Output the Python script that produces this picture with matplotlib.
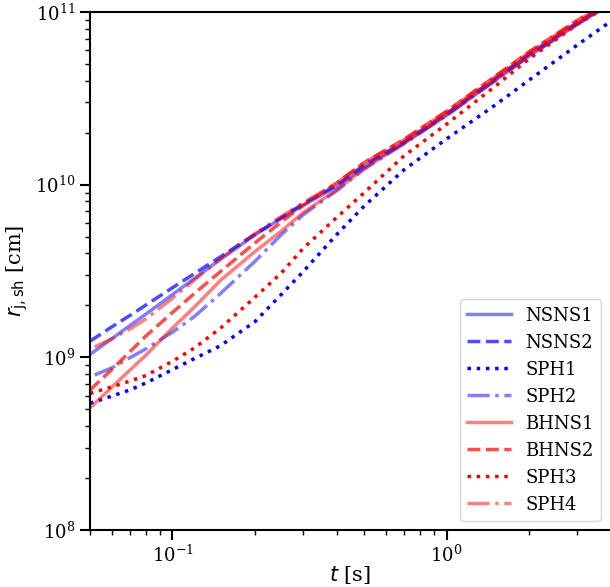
import numpy as np
import matplotlib
matplotlib.use("Agg")
import matplotlib.pyplot as plt

plt.rcParams['font.family'] = 'serif'
plt.rcParams['font.serif'] = ['DejaVu Serif']
plt.rcParams['mathtext.fontset'] = 'dejavusans'

# temps [s]
t = [0.05, 0.06, 0.07, 0.08, 0.1, 0.12, 0.15, 0.2, 0.25, 0.3,
     0.4, 0.5, 0.7, 1.0, 1.5, 2.0, 3.0, 4.0]
t_sph = [0.052] + t[1:]

# rayon du choc [cm]
nsns1 = [1.04e9, 1.28e9, 1.53e9, 1.78e9, 2.31e9, 2.86e9, 3.70e9, 5.12e9, 6.4e9, 7.6e9,
         9.8e9, 1.27e10, 1.74e10, 2.52e10, 4.0e10, 5.55e10, 8.5e10, 1.12e11]
nsns2 = [1.24e9, 1.50e9, 1.75e9, 2.01e9, 2.53e9, 3.05e9, 3.83e9, 5.16e9, 6.45e9, 7.75e9,
         1.0e10, 1.30e10, 1.77e10, 2.58e10, 4.11e10, 5.7e10, 8.69e10, 1.14e11]
sph1 = [5.42e8, 5.96e8, 6.48e8, 7.11e8, 8.49e8, 9.82e8, 1.17e9, 1.61e9, 2.32e9, 3.14e9,
        5.2e9, 7.5e9, 1.22e10, 1.84e10, 2.88e10, 4.03e10, 6.44e10, 8.89e10]
sph2 = [7.9e8, 8.69e8, 9.95e8, 1.12e9, 1.40e9, 1.72e9, 2.35e9, 3.6e9, 5.15e9, 6.7e9,
        9.3e9, 1.23e10, 1.73e10, 2.52e10, 4.0e10, 5.55e10, 8.5e10, 1.12e11]
bhns1 = [5.1e8, 6.7e8, 8.45e8, 1.03e9, 1.48e9, 1.95e9, 2.8e9, 4.1e9, 5.4e9, 6.9e9,
         9.4e9, 1.24e10, 1.74e10, 2.55e10, 4.05e10, 5.65e10, 8.6e10, 1.13e11]
bhns2 = [6.47e8, 8.49e8, 1.08e9, 1.33e9, 1.82e9, 2.34e9, 3.15e9, 4.6e9, 6.1e9, 7.6e9,
         1.03e10, 1.34e10, 1.83e10, 2.66e10, 4.23e10, 5.87e10, 8.95e10, 1.17e11]
sph3 = [6.18e8, 6.74e8, 7.29e8, 7.85e8, 9.49e8, 1.13e9, 1.48e9, 2.23e9, 3.09e9, 4.28e9,
        6.52e9, 8.97e9, 1.47e10, 2.24e10, 3.7e10, 5.35e10, 8.5e10, 1.12e11]
sph4 = [1.15e9, 1.28e9, 1.46e9, 1.67e9, 2.20e9, 2.8e9, 3.75e9, 5.2e9, 6.55e9, 7.85e9,
        1.03e10, 1.34e10, 1.82e10, 2.65e10, 4.2e10, 5.85e10, 8.9e10, 1.17e11]

fig = plt.figure(figsize=(6.1, 5.87), dpi=100)
ax = fig.add_axes([90 / 610, 57 / 587, 520 / 610, 518 / 587])

lw = 2.5
ax.plot(t, nsns1, color='b', alpha=0.5, ls='-', lw=lw, label='NSNS1')
ax.plot(t, nsns2, color='b', alpha=0.7, ls='--', lw=lw, label='NSNS2')
ax.plot(t, sph1, color='b', alpha=1.0, ls=':', lw=lw, label='SPH1')
ax.plot(t_sph, sph2, color='b', alpha=0.5, ls='-.', lw=lw, label='SPH2')
ax.plot(t, bhns1, color='r', alpha=0.5, ls='-', lw=lw, label='BHNS1')
ax.plot(t, bhns2, color='r', alpha=0.7, ls='--', lw=lw, label='BHNS2')
ax.plot(t, sph3, color='r', alpha=1.0, ls=':', lw=lw, label='SPH3')
ax.plot(t_sph, sph4, color='r', alpha=0.5, ls='-.', lw=lw, label='SPH4')

ax.set_xscale('log')
ax.set_yscale('log')
ax.set_xlim(0.05, 3.95)
ax.set_ylim(1e8, 1e11)

ax.set_xlabel(r'$t$ [s]', fontsize=15, labelpad=-1)
ax.set_ylabel(r'$r_{\rm j,sh}$ [cm]', fontsize=15, labelpad=4)

ax.spines['right'].set_visible(False)
for s in ['left', 'bottom', 'top']:
    ax.spines[s].set_linewidth(1.5)
ax.tick_params(which='major', length=7, width=1.5, labelsize=13)
ax.tick_params(which='minor', length=3.5, width=1.0)

ax.legend(loc='lower right', fontsize=13, handlelength=2.4)

fig.savefig('out.png', dpi=100)
